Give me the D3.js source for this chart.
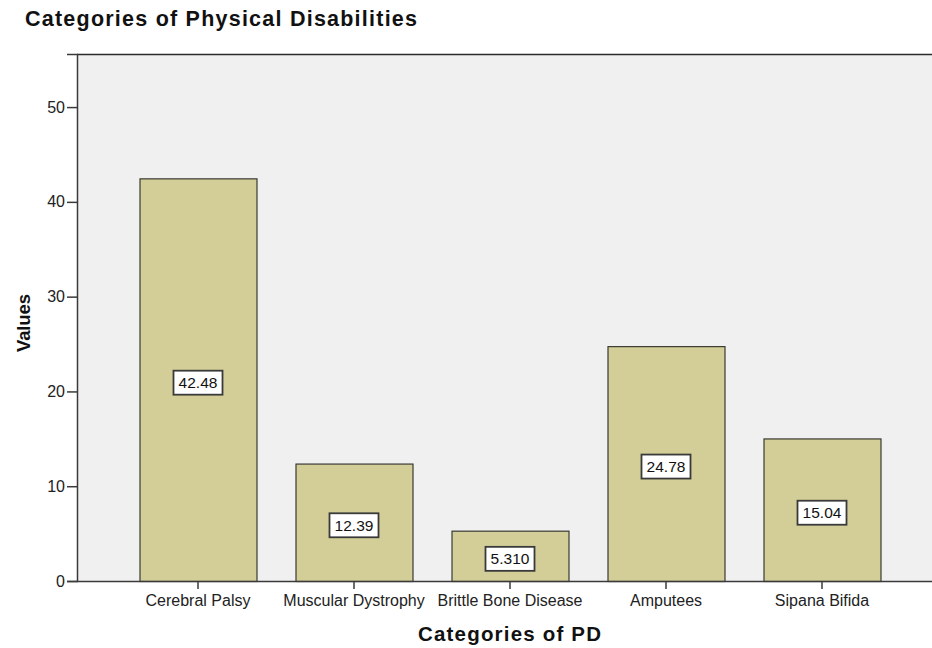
<!DOCTYPE html>
<html>
<head>
<meta charset="utf-8">
<script src="https://cdn.jsdelivr.net/npm/d3@7"></script>
<style>
html,body{margin:0;padding:0;background:#fff;}
svg{display:block;}
</style>
</head>
<body>
<svg id="chart" width="932" height="648"></svg>
<script>
const categories = ["Cerebral Palsy", "Muscular Dystrophy", "Brittle Bone Disease", "Amputees", "Sipana Bifida"];
const values = [42.48, 12.39, 5.31, 24.78, 15.04];
const valueLabels = ["42.48", "12.39", "5.310", "24.78", "15.04"];
const yTicks = [0, 10, 20, 30, 40, 50];

const FONT = "Arial, 'Liberation Sans', sans-serif";
const svg = d3.select("#chart");
const plot = {left: 77, top: 54, right: 932, bottom: 581};

const y = d3.scaleLinear().domain([0, 55.6]).range([plot.bottom, plot.top]);
const x = d3.scaleBand().domain(categories).range([120, 900]).paddingInner(0.25).paddingOuter(0.125);

// plot background
svg.append("rect").attr("x", plot.left).attr("y", plot.top)
  .attr("width", plot.right - plot.left).attr("height", plot.bottom - plot.top)
  .attr("fill", "#f0f0f0");
// top border
svg.append("line").attr("x1", plot.left).attr("x2", plot.right)
  .attr("y1", plot.top + 0.5).attr("y2", plot.top + 0.5)
  .attr("stroke", "#2a2a2a").attr("stroke-width", 1.5);

// bars
svg.append("g").selectAll("rect").data(values).join("rect")
  .attr("x", (d, i) => x(categories[i]) + 0.5)
  .attr("y", d => y(d) + 0.5)
  .attr("width", x.bandwidth())
  .attr("height", d => y(0) - y(d))
  .attr("fill", "#d3ce98")
  .attr("stroke", "#3a3a32").attr("stroke-width", 1.2);

// value labels
const lab = svg.append("g").selectAll("g").data(values).join("g")
  .attr("transform", (d, i) => `translate(${x(categories[i]) + x.bandwidth() / 2},${y(d / 2) + 3})`);
lab.append("rect").attr("x", -24.5).attr("y", -12).attr("width", 49).attr("height", 24)
  .attr("fill", "#fff").attr("stroke", "#3a3a3a").attr("stroke-width", 1.8);
lab.append("text").text((d, i) => valueLabels[i])
  .attr("text-anchor", "middle").attr("dy", "0.36em")
  .attr("font-family", FONT).attr("font-size", 15.5)
  .attr("fill", "#111");

// y axis
const yAxis = d3.axisLeft(y).tickValues(yTicks).tickSize(10).tickPadding(2).tickFormat(d3.format("d"));
const gy = svg.append("g").attr("transform", `translate(${plot.left},0)`).call(yAxis);
gy.select(".domain").attr("stroke", "#3a3a3a").attr("stroke-width", 1.5);
gy.selectAll(".tick line").attr("stroke", "#3a3a3a").attr("stroke-width", 1.5);
gy.selectAll(".tick text").attr("font-family", FONT)
  .attr("font-size", 16).attr("fill", "#222");

// x axis
const xAxis = d3.axisBottom(x).tickSize(8).tickPadding(6).tickSizeOuter(0);
const gx = svg.append("g").attr("transform", `translate(0,${plot.bottom})`).call(xAxis);
gx.select(".domain").attr("d", `M${plot.left},0.5H${plot.right}`)
  .attr("stroke", "#3a3a3a").attr("stroke-width", 1.5);
gx.selectAll(".tick line").attr("stroke", "#3a3a3a").attr("stroke-width", 1.5);
gx.selectAll(".tick text").attr("font-family", FONT)
  .attr("font-size", 16).attr("fill", "#222");

// titles
svg.append("text").text("Categories of Physical Disabilities")
  .attr("x", 25).attr("y", 26)
  .attr("textLength", 392).attr("lengthAdjust", "spacing")
  .attr("font-family", FONT).attr("font-weight", "bold")
  .attr("font-size", 21.5).attr("fill", "#111");
svg.append("text").text("Categories of PD")
  .attr("x", 418).attr("y", 641)
  .attr("textLength", 183).attr("lengthAdjust", "spacing")
  .attr("font-family", FONT).attr("font-weight", "bold")
  .attr("font-size", 20.5).attr("fill", "#111");
svg.append("text").text("Values")
  .attr("transform", `translate(30,352) rotate(-90)`)
  .attr("textLength", 58).attr("lengthAdjust", "spacing")
  .attr("font-family", FONT).attr("font-weight", "bold")
  .attr("font-size", 18.5).attr("fill", "#111");
</script>
</body>
</html>
